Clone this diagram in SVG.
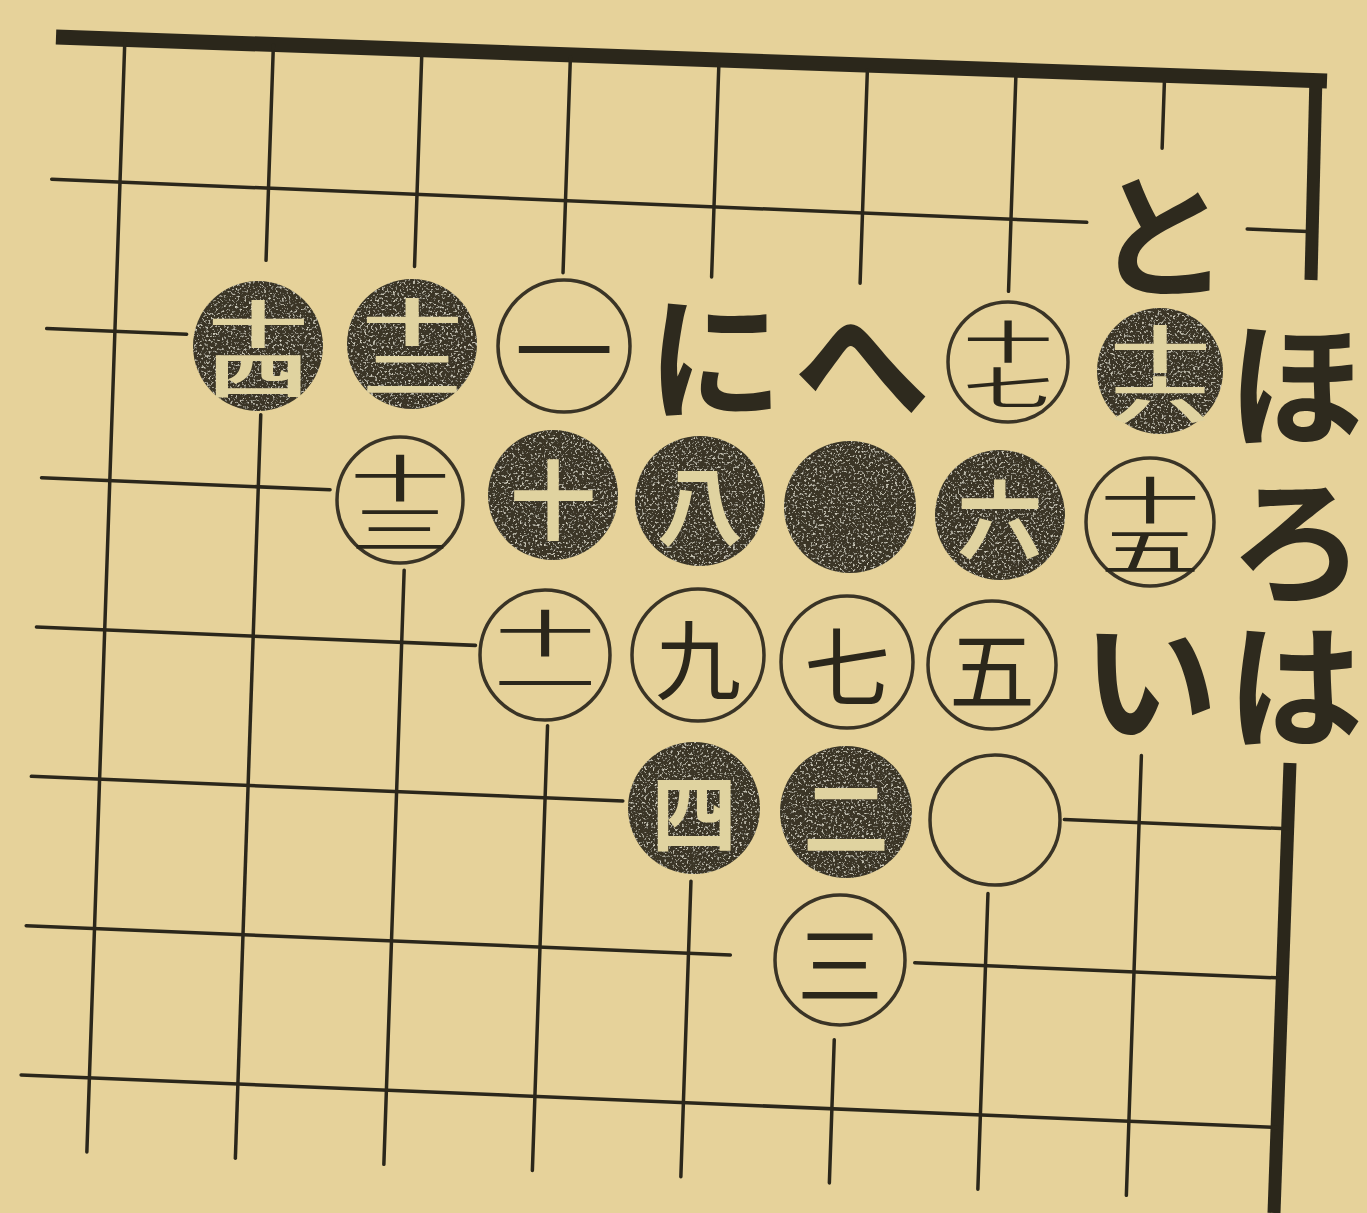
<svg xmlns="http://www.w3.org/2000/svg" width="1367" height="1213" viewBox="0 0 1367 1213">
<defs>
<style>
.ln{stroke:#2b271b;stroke-width:3.5;stroke-linecap:round;fill:none}
.edge{stroke:#2b271b;stroke-width:15;stroke-linecap:butt;fill:none}
.bs{fill:#3a3628}
.ws{fill:#e6d29a;stroke:#3a3426;stroke-width:3.5}
.nb{font-family:"Noto Sans CJK JP","Noto Sans CJK SC",sans-serif;font-weight:700;fill:#e0d3a0;text-anchor:middle;dominant-baseline:central}
.nw{font-family:"Noto Sans CJK JP","Noto Sans CJK SC",sans-serif;font-weight:400;fill:#2b271b;text-anchor:middle;dominant-baseline:central}
.d1{font-size:86px}
.d2{font-size:100px}
.lb{font-family:"Noto Sans CJK JP","Noto Sans CJK SC",sans-serif;font-weight:700;font-size:136px;fill:#2e2a1e;text-anchor:middle;dominant-baseline:central}
</style>
<filter id="speck" x="0" y="0" width="1" height="1">
<feTurbulence type="fractalNoise" baseFrequency="0.45" numOctaves="2" seed="7" result="n"/>
<feColorMatrix in="n" type="matrix" values="0 0 0 0 0.62 0 0 0 0 0.6 0 0 0 0 0.5 5 0 0 0 -2.8" result="s"/>
<feComposite in="s" in2="SourceGraphic" operator="in" result="sc"/>
<feMerge><feMergeNode in="SourceGraphic"/><feMergeNode in="sc"/></feMerge>
</filter>
</defs>
<rect width="1367" height="1213" fill="#e6d29a"/>

<g id="connectors">
<g id="board-edges">
<line class="edge" x1="56" y1="37" x2="1327" y2="81"/>
<line class="edge" x1="1316" y1="75" x2="1311" y2="280" style="stroke-width:13"/>
<line class="edge" x1="1290" y1="763" x2="1274" y2="1213" style="stroke-width:13"/>
</g>
<g id="grid" transform="matrix(0.99664 0.04161 -0.03423 1.00201 120 182)">
<line class="ln" x1="0" y1="-143" x2="0" y2="968"/>
<line class="ln" x1="149" y1="-143" x2="149" y2="72"/>
<line class="ln" x1="149" y1="226" x2="149" y2="968"/>
<line class="ln" x1="298" y1="-143" x2="298" y2="72"/>
<line class="ln" x1="298" y1="375" x2="298" y2="968"/>
<line class="ln" x1="447" y1="-143" x2="447" y2="72"/>
<line class="ln" x1="447" y1="524" x2="447" y2="968"/>
<line class="ln" x1="596" y1="-143" x2="596" y2="70"/>
<line class="ln" x1="596" y1="673" x2="596" y2="968"/>
<line class="ln" x1="745" y1="-143" x2="745" y2="70"/>
<line class="ln" x1="745" y1="825" x2="745" y2="968"/>
<line class="ln" x1="894" y1="-143" x2="894" y2="72"/>
<line class="ln" x1="894" y1="673" x2="894" y2="968"/>
<line class="ln" x1="1043" y1="-143" x2="1043" y2="-77"/>
<line class="ln" x1="1043" y1="529" x2="1043" y2="968"/>
<line class="ln" x1="-68.5" y1="0" x2="970" y2="0"/>
<line class="ln" x1="1131" y1="0" x2="1192" y2="0"/>
<line class="ln" x1="-68.5" y1="149" x2="72" y2="149"/>
<line class="ln" x1="-68.5" y1="298" x2="221" y2="298"/>
<line class="ln" x1="-68.5" y1="447" x2="372" y2="447"/>
<line class="ln" x1="-68.5" y1="596" x2="525" y2="596"/>
<line class="ln" x1="968" y1="596" x2="1192" y2="596"/>
<line class="ln" x1="-68.5" y1="745" x2="638" y2="745"/>
<line class="ln" x1="823" y1="745" x2="1192" y2="745"/>
<line class="ln" x1="-68.5" y1="894" x2="1192" y2="894"/>
</g>
</g>

<g id="stone-14"><circle class="bs" filter="url(#speck)" cx="258" cy="346" r="65"/><text class="nb d2" transform="translate(258,346) scale(1,0.5)"><tspan x="0" y="-51">十</tspan><tspan x="0" y="51">四</tspan></text></g>
<g id="stone-12"><circle class="bs" filter="url(#speck)" cx="412" cy="344" r="65"/><text class="nb d2" transform="translate(412,344) scale(1,0.5)"><tspan x="0" y="-51">十</tspan><tspan x="0" y="51">二</tspan></text></g>
<g id="stone-1"><circle class="ws" cx="564" cy="346" r="66"/><text class="nw d1" transform="translate(564,346) scale(1.15,1)" x="0" y="0">一</text></g>
<g id="stone-17"><circle class="ws" cx="1008" cy="362" r="60"/><text class="nw" style="font-size:90px" transform="translate(1008,362) scale(1,0.5)"><tspan x="0" y="-46">十</tspan><tspan x="0" y="46">七</tspan></text></g>
<g id="stone-16"><circle class="bs" filter="url(#speck)" cx="1160" cy="371" r="63"/><text class="nb d2" transform="translate(1160,371) scale(1,0.5)"><tspan x="0" y="-51">十</tspan><tspan x="0" y="51">六</tspan></text></g>

<g id="stone-13"><circle class="ws" cx="400" cy="500" r="63"/><text class="nw d2" transform="translate(400,500) scale(1,0.5)"><tspan x="0" y="-51">十</tspan><tspan x="0" y="51">三</tspan></text></g>
<g id="stone-10"><circle class="bs" filter="url(#speck)" cx="553" cy="495" r="65"/><text class="nb d1" x="553" y="495">十</text></g>
<g id="stone-8"><circle class="bs" filter="url(#speck)" cx="700" cy="501" r="65"/><text class="nb d1" x="700" y="501">八</text></g>
<g id="stone-b"><circle class="bs" filter="url(#speck)" cx="850" cy="507" r="66"/></g>
<g id="stone-6"><circle class="bs" filter="url(#speck)" cx="1000" cy="515" r="65"/><text class="nb d1" x="1000" y="515">六</text></g>
<g id="stone-15"><circle class="ws" cx="1150" cy="522" r="64"/><text class="nw d2" transform="translate(1150,522) scale(1,0.5)"><tspan x="0" y="-51">十</tspan><tspan x="0" y="51">五</tspan></text></g>

<g id="stone-11"><circle class="ws" cx="545" cy="655" r="65"/><text class="nw d2" transform="translate(545,655) scale(1,0.5)"><tspan x="0" y="-51">十</tspan><tspan x="0" y="51">一</tspan></text></g>
<g id="stone-9"><circle class="ws" cx="698" cy="655" r="66"/><text class="nw d1" x="698" y="655">九</text></g>
<g id="stone-7"><circle class="ws" cx="847" cy="662" r="66"/><text class="nw d1" x="847" y="662">七</text></g>
<g id="stone-5"><circle class="ws" cx="992" cy="665" r="64"/><text class="nw d1" x="992" y="665">五</text></g>

<g id="stone-4"><circle class="bs" filter="url(#speck)" cx="694" cy="808" r="66"/><text class="nb d1" x="694" y="808">四</text></g>
<g id="stone-2"><circle class="bs" filter="url(#speck)" cx="846" cy="812" r="66"/><text class="nb d1" x="846" y="812">二</text></g>
<g id="stone-w"><circle class="ws" cx="995" cy="820" r="65"/></g>
<g id="stone-3"><circle class="ws" cx="840" cy="960" r="65"/><text class="nw d1" x="840" y="960">三</text></g>

<g id="label-to"><text class="lb" x="1162" y="228">と</text></g>
<g id="label-ni"><text class="lb" x="715" y="350">に</text></g>
<g id="label-he"><text class="lb" x="862" y="355">へ</text></g>
<g id="label-ho"><text class="lb" x="1296" y="376">ほ</text></g>
<g id="label-ro"><text class="lb" x="1297" y="533">ろ</text></g>
<g id="label-i"><text class="lb" x="1150" y="672">い</text></g>
<g id="label-ha"><text class="lb" x="1295" y="678">は</text></g>
</svg>
